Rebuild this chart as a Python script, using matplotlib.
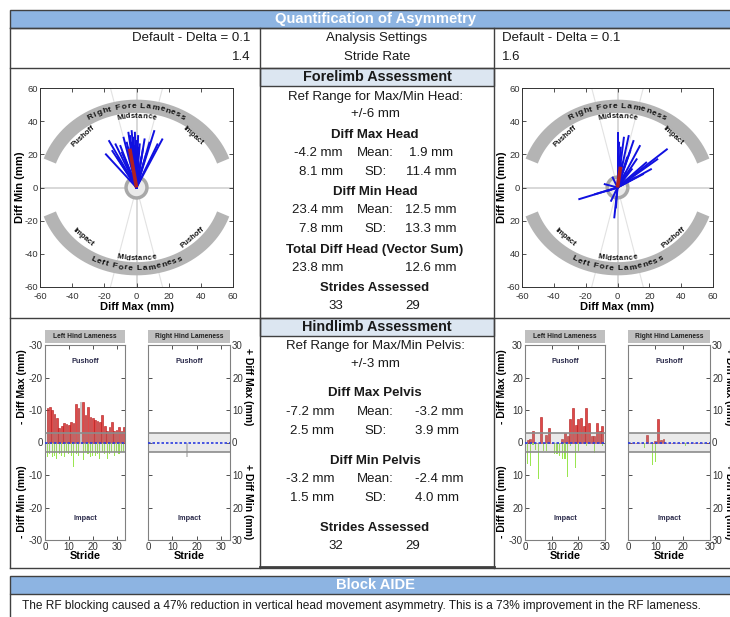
import numpy as np
import matplotlib
matplotlib.use('Agg')
import matplotlib.pyplot as plt
from matplotlib.patches import Rectangle, Ellipse
from matplotlib.font_manager import FontProperties, findfont
from matplotlib.ft2font import FT2Font

plt.rcParams['font.family'] = ['Liberation Sans', 'DejaVu Sans']
plt.rcParams['axes.unicode_minus'] = False

# ---------------- data ----------------
stride_rate = [1.4, 1.6]
fore_ref = 6
hind_ref = 3

# [median, sd] before / after
pre_fore_max = [-4.2, 8.1]
post_fore_max = [1.9, 11.4]
pre_fore_min = [23.4, 7.8]
post_fore_min = [12.5, 13.3]
fore_strides = [33, 29]

pre_hind_max = [-7.2, 2.5]
post_hind_max = [-3.2, 3.9]
pre_hind_min = [-3.2, 1.5]
post_hind_min = [-2.4, 4.0]
hind_strides = [32, 29]

# per-stride head vectors (diff max, diff min)
pre_vec_x = [-19, -17, -15, -13, -12, -10, -9, -8, -7, -6, -5, -5, -4, -4, -3, -3, -2,
             -2, -1, -1, 0, 0, 1, 1, 2, 3, 4, 5, 6, 8, 11, 13, 16]
pre_vec_y = [20, 28, 22, 26, 18, 25, 21, 30, 17, 27, 33, 24, 31, 19, 34, 27, 30,
             22, 33, 25, 28, 20, 31, 24, 26, 18, 23, 29, 20, 27, 34, 26, 29]
post_vec_x = [-24, -14, -8, -6, -4, -3, -2, -1, 0, 0, 1, 2, 2, 3, 4, 5, 6, 7, 8, 9,
              10, 11, 12, 14, 16, 18, 21, 25, 31]
post_vec_y = [-7, -4, 2, -2, -8, 6, -18, -12, 33, 20, 27, 12, 24, 15, 30, 9, 18, 31,
              22, 11, 28, 6, 17, 25, 8, 15, 11, 17, 23]

# per-stride pelvis bars (height up = max, height down = min)
pre_left_max = [10.5, 11.0, 10.0, 8.8, 7.5, 4.6, 5.0, 6.0, 5.8, 5.5, 6.2, 6.0, 11.8,
                10.5, 0, 12.5, 8.5, 10.8, 8.0, 7.5, 6.8, 6.5, 6.3, 8.5, 5.0, 3.5,
                4.8, 6.2, 3.5, 4.0, 4.8, 3.5, 4.8]
pre_left_min = [4.5, 3.5, 4.5, 4.0, 5.0, 3.5, 4.0, 4.5, 3.0, 3.5, 4.0, 7.5, 3.5, 4.0,
                0, 5.5, 3.0, 3.5, 4.5, 4.0, 4.0, 3.5, 5.0, 3.0, 3.5, 5.0, 3.5, 3.0,
                4.0, 3.0, 3.5, 3.0, 3.0]
pre_left_excl_x = [15]
pre_left_excl_h = [12.5]
pre_right_excl_x = [16]
pre_right_excl_h = [-4.6]

post_left_max = [0.8, 1.2, 3.4, 0, 0, 7.8, 0, 2.3, 4.5, 0, 0, 0, 0, 1.0, 2.8, 2.0,
                 7.3, 10.5, 5.5, 7.3, 7.5, 5.0, 10.5, 6.0, 2.0, 2.0, 5.9, 3.6, 5.0]
post_left_min = [6.5, 7.2, 0.8, 2.4, 11.3, 0, 2.6, 2.6, 0, 0, 3.6, 3.4, 4.1, 5.2,
                 5.2, 10.5, 1.0, 0, 7.9, 2.5, 0, 0, 1.0, 0, 0, 3.1, 0, 0, 1.0]
post_right_max = [0, 0, 0, 0, 0, 0, 2.3, 0, 0, 0.4, 7.3, 0.8, 1.1, 0, 0, 0, 0, 0, 0,
                  0, 0, 0, 0, 0, 0, 0, 0, 0, 0]
post_right_min = [0, 0, 0, 0, 0, 1.8, 0, 0, 6.8, 6.0, 0, 0, 0, 0, 0, 0, 0, 0, 0, 0,
                  1.0, 0, 0, 0, 0, 0, 0, 0.5, 0]

# ---------------- figure ----------------
W, H = 730, 617
fig = plt.figure(figsize=(W / 100, H / 100), dpi=100)
bg = fig.add_axes([0, 0, 1, 1])
bg.set_xlim(0, W)
bg.set_ylim(H, 0)
bg.axis('off')

C_LINE = '#404040'
C_BLUE = '#8DB4E2'
C_HEAD = '#DCE6F1'
TXT = '#1a1a1a'
FS = 9.5


def frac(x0, y0, x1, y1):
    return [x0 / W, 1 - y1 / H, (x1 - x0) / W, (y1 - y0) / H]


def hline(y, x0=10, x1=740, lw=1.0):
    bg.plot([x0, x1], [y, y], color=C_LINE, lw=lw)


def vline(x, y0, y1, lw=1.0):
    bg.plot([x, x], [y0, y1], color=C_LINE, lw=lw)


def t(x, y, s, size=FS, bold=False, ha='center', color=TXT, **kw):
    bg.text(x, y, s, fontsize=size, fontweight='bold' if bold else 'normal',
            ha=ha, va='center', color=color, **kw)


# table frame
bg.add_patch(Rectangle((10, 10), 730, 18, fc=C_BLUE, ec=C_LINE, lw=1.0))
t(376, 19, 'Quantification of Asymmetry', size=10.6, bold=True, color='white')
hline(28)
hline(68)
hline(318)
hline(568)
vline(10, 28, 568)
vline(260, 28, 568)
vline(494, 28, 568)
bg.add_patch(Rectangle((260, 68), 234, 18, fc=C_HEAD, ec=C_LINE, lw=1.0))
bg.add_patch(Rectangle((260, 318), 234, 18, fc=C_HEAD, ec=C_LINE, lw=1.0))
hline(567, 260, 494, lw=2)

# settings rows
t(250, 38, 'Default - Delta = 0.1', ha='right')
t(377, 38, 'Analysis Settings')
t(502, 38, 'Default - Delta = 0.1', ha='left')
t(250, 57, f'{stride_rate[0]:.1f}', ha='right')
t(377, 57, 'Stride Rate')
t(502, 57, f'{stride_rate[1]:.1f}', ha='left')

# forelimb column
t(377, 77, 'Forelimb Assessment', size=10.4, bold=True)
t(375, 97, 'Ref Range for Max/Min Head:')
t(375, 114, f'+/-{fore_ref} mm')
t(375, 135, 'Diff Max Head', bold=True)
t(343, 153, f'{pre_fore_max[0]:.1f} mm', ha='right')
t(375, 153, 'Mean:')
t(431, 153, f'{post_fore_max[0]:.1f} mm')
t(343, 172, f'{pre_fore_max[1]:.1f} mm', ha='right')
t(375, 172, 'SD:')
t(431, 172, f'{post_fore_max[1]:.1f} mm')
t(375, 192, 'Diff Min Head', bold=True)
t(343, 210, f'{pre_fore_min[0]:.1f} mm', ha='right')
t(375, 210, 'Mean:')
t(431, 210, f'{post_fore_min[0]:.1f} mm')
t(343, 229, f'{pre_fore_min[1]:.1f} mm', ha='right')
t(375, 229, 'SD:')
t(431, 229, f'{post_fore_min[1]:.1f} mm')
t(375, 250, 'Total Diff Head (Vector Sum)', bold=True)
pre_total = np.hypot(pre_fore_max[0], pre_fore_min[0])
post_total = np.hypot(post_fore_max[0], post_fore_min[0])
t(343, 268, f'{pre_total:.1f} mm', ha='right')
t(431, 268, f'{post_total:.1f} mm')
t(375, 288, 'Strides Assessed', bold=True)
t(336, 306, str(fore_strides[0]))
t(413, 306, str(fore_strides[1]))

# hindlimb column
t(377, 327, 'Hindlimb Assessment', size=10.4, bold=True)
t(375, 346, 'Ref Range for Max/Min Pelvis:')
t(375, 364, f'+/-{hind_ref} mm')
t(375, 393, 'Diff Max Pelvis', bold=True)
t(334, 412, f'{pre_hind_max[0]:.1f} mm', ha='right')
t(375, 412, 'Mean:')
t(415, 412, f'{post_hind_max[0]:.1f} mm', ha='left')
t(334, 431, f'{pre_hind_max[1]:.1f} mm', ha='right')
t(375, 431, 'SD:')
t(415, 431, f'{post_hind_max[1]:.1f} mm', ha='left')
t(375, 461, 'Diff Min Pelvis', bold=True)
t(334, 479, f'{pre_hind_min[0]:.1f} mm', ha='right')
t(375, 479, 'Mean:')
t(415, 479, f'{post_hind_min[0]:.1f} mm', ha='left')
t(334, 498, f'{pre_hind_min[1]:.1f} mm', ha='right')
t(375, 498, 'SD:')
t(415, 498, f'{post_hind_min[1]:.1f} mm', ha='left')
t(375, 528, 'Strides Assessed', bold=True)
t(336, 546, str(hind_strides[0]))
t(413, 546, str(hind_strides[1]))

# block summary
bg.add_patch(Rectangle((10, 576), 730, 18, fc=C_BLUE, ec=C_LINE, lw=1.0))
t(376, 585, 'Block AIDE', size=10.6, bold=True, color='white')
vline(10, 594, 620)
t(22, 606, 'The RF blocking caused a 47% reduction in vertical head movement asymmetry. '
           'This is a 73% improvement in the RF lameness.', size=8.55, ha='left')


# ---------------- head vector plots ----------------
def arc_text(ax, s, a, b, t_mid, upper, fs, track, sx, sy):
    prop = FontProperties(family='Liberation Sans', weight='bold', size=fs)
    font = FT2Font(findfont(prop))
    font.set_size(fs, 72)
    adv = np.array([font.load_char(ord(c)).linearHoriAdvance / 65536 * 100 / 72 + track
                    for c in s])
    centers = np.cumsum(adv) - adv / 2 - adv.sum() / 2
    d = -1 if upper else 1
    tt = np.radians(t_mid + d * np.linspace(-120, 120, 4001))
    px = a * np.cos(tt) * sx
    py = b * np.sin(tt) * sy
    S = np.concatenate([[0], np.cumsum(np.hypot(np.diff(px), np.diff(py)))])
    S -= S[2000]
    for c, off in zip(s, centers):
        th = np.interp(off, S, tt)
        dx = -a * np.sin(th) * sx * d
        dy = b * np.cos(th) * sy * d
        ax.text(a * np.cos(th), b * np.sin(th), c, fontsize=fs, fontweight='bold',
                rotation=np.degrees(np.arctan2(dy, dx)), rotation_mode='anchor',
                ha='center', va='center', color='#111111', zorder=4)


def head_plot(box, vx, vy, mean_xy, ylabels):
    x0, y0, x1, y1 = box
    ax = fig.add_axes(frac(*box))
    ax.set_xlim(-60, 60)
    ax.set_ylim(-60, 60)
    sx = (x1 - x0) / 120
    sy = (y1 - y0) / 120

    ax.axhline(0, color='#D5D5D5', lw=1.3, zorder=1)
    ax.axvline(0, color='#D5D5D5', lw=1.3, zorder=1)
    for k in (3.7, -3.7):
        ax.plot([-60 / k, 60 / k], [-60, 60], color='#E2E2E2', lw=0.8, zorder=1)

    # lameness bands
    a, b = 57, 49
    tu = np.radians(np.linspace(19, 161, 200))
    ax.plot(a * np.cos(tu), b * np.sin(tu), color='#B4B4B4', lw=9.5,
            solid_capstyle='butt', zorder=2)
    ax.plot(a * np.cos(tu), -b * np.sin(tu), color='#B4B4B4', lw=9.5,
            solid_capstyle='butt', zorder=2)
    arc_text(ax, 'Right Fore Lameness', a, b, 90, True, 6, 0.9, sx, sy)
    arc_text(ax, 'Left Fore Lameness', a, b, 270, False, 6, 0.9, sx, sy)
    arc_text(ax, 'Midstance', 50, 43, 90, True, 5.5, 0.3, sx, sy)
    arc_text(ax, 'Midstance', 50, 43, 270, False, 5.5, 0.3, sx, sy)
    kw = dict(fontsize=5.5, fontweight='bold', ha='center', va='center',
              color='#111111', zorder=4)
    ax.text(-33, 31, 'Pushoff', rotation=42, **kw)
    ax.text(35, 31, 'Impact', rotation=-42, **kw)
    ax.text(-33, -30, 'Impact', rotation=-40, **kw)
    ax.text(35, -30, 'Pushoff', rotation=40, **kw)

    ax.add_patch(Ellipse((0, 0), 13, 13 * sx / sy, fc='#EAEAEA', ec='#A8A8A8',
                         lw=2.5, zorder=3))

    for xe, ye in zip(vx, vy):
        ax.plot([0, xe], [0, ye], color='#1010E0', lw=1.4, zorder=5)
    ax.plot([0, mean_xy[0]], [0, mean_xy[1]], color='#B02020', lw=2.6, zorder=6,
            solid_capstyle='butt')

    ticks = [-60, -40, -20, 0, 20, 40, 60]
    ax.set_xticks(ticks)
    ax.set_yticks(ticks)
    ax.set_yticklabels(ylabels)
    ax.tick_params(direction='in', top=True, right=True, length=3, width=0.6,
                   labelsize=6.8, pad=1.5, colors='#333333')
    ax.tick_params(axis='x', pad=3.5)
    for sp in ax.spines.values():
        sp.set_linewidth(0.7)
        sp.set_color('#333333')
    cx = (x0 + x1) / 2
    bg.text(cx, 307, 'Diff Max (mm)', fontsize=8, fontweight='bold', ha='center',
            va='center')
    bg.text(x0 - 20, (y0 + y1) / 2, 'Diff Min (mm)', fontsize=8, fontweight='bold',
            ha='center', va='center', rotation=90)


head_plot((40, 88, 233, 287), pre_vec_x, pre_vec_y,
          (pre_fore_max[0], pre_fore_min[0]),
          ['-60', '-40', '-20', '0', '20', '40', '60'])
head_plot((522, 88, 713, 287), post_vec_x, post_vec_y,
          (post_fore_max[0], post_fore_min[0]),
          ['-60', '40', '20', '0', '20', '40', '60'])


# ---------------- pelvis stride charts ----------------
def hind_chart(box, title, xmax, up, down, excl_x, excl_h, labels, side):
    x0, y0, x1, y1 = box
    bg.add_patch(Rectangle((x0, 330), x1 - x0, 13, fc='#BFBFBF', ec='none'))
    bg.text((x0 + x1) / 2, 336.5, title, fontsize=4.8, fontweight='bold',
            ha='center', va='center', color='#222222')
    ax = fig.add_axes(frac(*box))
    ax.set_xlim(0, xmax)
    ax.set_ylim(-30, 30)
    if up:
        xs = np.arange(1, len(up) + 1)
        ax.bar(xs, up, width=0.7, color='#E04848', edgecolor='#B01818', lw=0.4,
               zorder=2)
        ax.bar(xs, -np.array(down), width=0.45, color='#9AE650', lw=0, zorder=2)
    if excl_x:
        ax.bar(excl_x, excl_h, width=0.9, color='#C8C8C8', lw=0, zorder=1.5)
    ax.axhspan(-hind_ref, hind_ref, color='#A0A0A0', alpha=0.22, lw=0, zorder=3)
    ax.axhline(hind_ref, color='#8C8C8C', lw=1.2, zorder=3.5)
    ax.axhline(-hind_ref, color='#8C8C8C', lw=1.2, zorder=3.5)
    ax.axhline(0, color='#2A3BE0', lw=1.2, ls=(0, (1.5, 1.2)), zorder=4)
    ax.text(xmax / 2, 25, 'Pushoff', fontsize=5.3, fontweight='bold', ha='center',
            va='center', color='#2B2B4B')
    ax.text(xmax / 2, -23.5, 'Impact', fontsize=5.3, fontweight='bold', ha='center',
            va='center', color='#2B2B4B')
    ax.set_xticks([0, 10, 20, 30])
    ax.set_yticks([-30, -20, -10, 0, 10, 20, 30])
    ax.set_yticklabels(labels)
    ax.tick_params(direction='in', top=True, right=True, length=3, width=0.6,
                   labelsize=7, pad=1.5, colors='#333333',
                   labelleft=(side == 'left'), labelright=(side == 'right'))
    for sp in ax.spines.values():
        sp.set_linewidth(0.8)
        sp.set_color('#808080')
    bg.text((x0 + x1) / 2, 556, 'Stride', fontsize=7.8, fontweight='bold',
            ha='center', va='center')


def side_labels(x, sign, rot):
    bg.text(x, 387, f'{sign} Diff Max (mm)', fontsize=7.5, fontweight='bold',
            ha='center', va='center', rotation=rot)
    bg.text(x, 502, f'{sign} Diff Min (mm)', fontsize=7.5, fontweight='bold',
            ha='center', va='center', rotation=rot)


sym = ['-30', '-20', '-10', '0', '-10', '-20', '-30']
pos = ['30', '20', '10', '0', '10', '20', '30']
hind_chart((45, 345, 125, 540), 'Left Hind Lameness', 33.5, pre_left_max,
           pre_left_min, pre_left_excl_x, pre_left_excl_h, sym, 'left')
hind_chart((148, 345, 230, 540), 'Right Hind Lameness', 33.5, None, None,
           pre_right_excl_x, pre_right_excl_h, pos, 'right')
hind_chart((525, 345, 605, 540), 'Left Hind Lameness', 30, post_left_max,
           post_left_min, None, None,
           ['-30', '20', '10', '0', '10', '20', '30'], 'left')
hind_chart((628, 345, 710, 540), 'Right Hind Lameness', 30, post_right_max,
           post_right_min, None, None, pos, 'right')
side_labels(22, '-', 90)
side_labels(248, '+', 270)
side_labels(502, '-', 90)
side_labels(729, '+', 270)

fig.savefig('out.png', dpi=100)
